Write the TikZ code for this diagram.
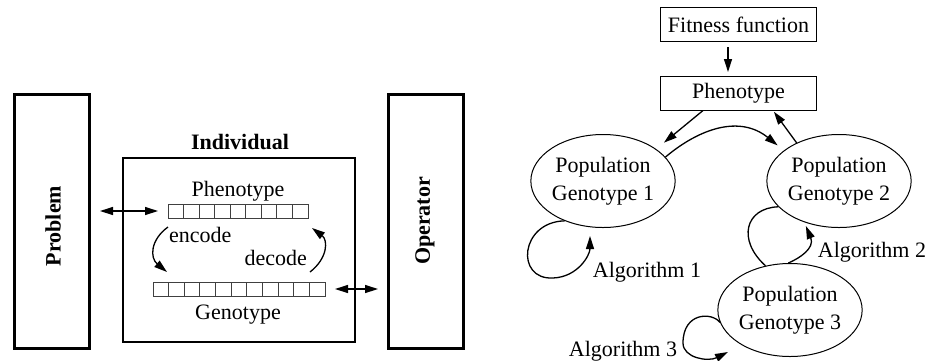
\documentclass[tikz,border=0pt]{standalone}
\usepackage{fontspec}
\setmainfont{Liberation Serif}
\usetikzlibrary{arrows.meta,shapes.geometric,calc}
\begin{document}
\begin{tikzpicture}[x=1pt,y=-1pt,
  txt/.style={font=\fontsize{22}{27.7}\selectfont, inner sep=0pt},
  arr/.style={line width=1.3pt, -{Triangle[length=13pt,width=8pt]}},
  darr/.style={line width=1.3pt, {Triangle[length=13pt,width=8pt]}-{Triangle[length=13pt,width=8pt]}},
  plain/.style={line width=1.3pt},
  heavybox/.style={draw, line width=3pt, minimum width=75pt, minimum height=254pt, inner sep=0pt},
  indbox/.style={draw, line width=1.5pt, minimum width=232pt, minimum height=184pt, inner sep=0pt},
  thinbox/.style={draw, line width=1pt, minimum width=156pt, minimum height=34pt, txt},
  pop/.style={ellipse, draw, line width=1pt, minimum width=144pt, minimum height=93pt, align=center, txt, fill=white},
  cellrow/.style={inner sep=0pt, minimum height=14pt, outer sep=0pt},
  cell/.style={draw=black!75, line width=0.9pt},
]
\useasboundingbox (0,0) rectangle (933,360);

% ---------- left part ----------
\node[heavybox] (prob) at (52,221.5) {};
\node[txt, rotate=90] (probl) at (53,226) {\bfseries Problem};
\node[heavybox] (oper) at (426,221.5) {};
\node[txt, rotate=90] (operl) at (425,221) {\bfseries Operator};

\node[indbox] (ind) at (239,250) {};
\node[txt, anchor=base] (indl) at (240,149.3) {\bfseries Individual};

\node[cellrow, minimum width=140pt] (parr) at (238,211) {};
\foreach \i in {0,...,8}
  \draw[cell] ($(parr.north west)+(\i*15.5556,0)$) rectangle ++(15.5556,14);
\node[cellrow, minimum width=172pt] (garr) at (239,289) {};
\foreach \i in {0,...,10}
  \draw[cell] ($(garr.north west)+(\i*15.6364,0)$) rectangle ++(15.6364,14);

\node[txt, anchor=base] (phl) at (238,196.7) {Phenotype};
\node[txt, anchor=base] (gel) at (238,319.3) {Genotype};
\node[txt, anchor=base west] (enc) at (169,242.3) {encode};
\node[txt, anchor=base east] (dec) at (307,265.7) {decode};

\draw[darr, shorten <=9pt, shorten >=10pt] (prob.east |- parr.west) -- (parr.west);
\draw[darr, shorten <=10pt, shorten >=9pt] (garr.east) -- (garr.east -| oper.west);

\draw[arr] ($(parr.south west)+(0,9)$) .. controls (150,240) and (150,258) .. ($(garr.north west)+(14,-10)$);
\draw[arr] ($(garr.north east)+(-15,-10)$) .. controls (328,258) and (328,240) .. ($(parr.south east)+(4,10)$);

% ---------- right part ----------
\node[thinbox] (fit) at (738.5,24.5) {Fitness function};
\node[thinbox] (ph2) at (738.5,93) {Phenotype};
\draw[arr, shorten <=5pt, shorten >=3.5pt] ([xshift=-10.5pt]fit.south) -- ([xshift=-10.5pt]ph2.north);

\node[pop] (e1) at (603,181) {Population\\Genotype 1};
\node[pop] (e2) at (839,181) {Population\\Genotype 2};
\node[pop] (e3) at (790,310) {Population\\Genotype 3};

\draw[arr, shorten >=10pt] ([xshift=-35.5pt]ph2.south) -- (e1.31);
\draw[arr, shorten >=1.5pt] (e2.138) -- ([xshift=34.5pt]ph2.south);
\draw[arr, shorten >=8pt] (e1.21) .. controls (700,128) and (740,115) .. (e2.151);

% loops
\coordinate (t1) at (590,236);
\coordinate (t3) at (728,352);
\draw[arr] (e1.226) .. controls (520,222) and (515,280) .. (553,278)
      .. controls (578,277) and (590,255) .. (t1);
\draw[plain] (e2.203) .. controls (745,208) and (737,240) .. (e3.119);
\draw[arr, shorten >=4pt] (e3.92) .. controls (800,258) and (815,248) .. (e2.230);
\draw[arr] (e3.190) .. controls (712,312) and (683,312) .. (683,343)
      .. controls (683,358) and (708,362) .. (t3);

\node[txt, anchor=base] (a1) at (647,277) {Algorithm 1};
\node[txt, anchor=base] (a2) at (872,257) {Algorithm 2};
\node[txt, anchor=base] (a3) at (623,356) {Algorithm 3};
\end{tikzpicture}
\end{document}
